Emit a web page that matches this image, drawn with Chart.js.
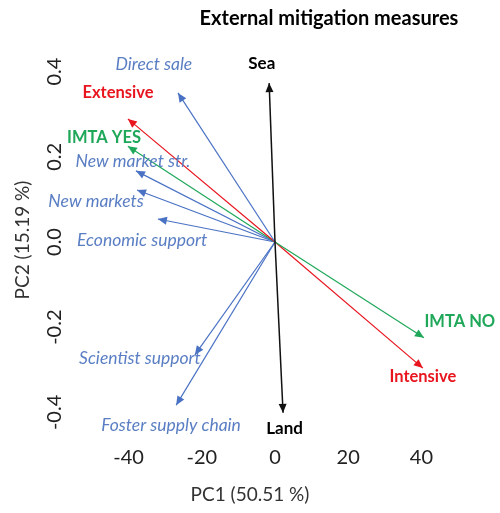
<!DOCTYPE html>
<html>
<head>
<meta charset="utf-8">
<script src="https://cdn.jsdelivr.net/npm/chart.js@4"></script>
<style>
  html, body { margin: 0; padding: 0; background: #fff; }
  #wrap { width: 500px; height: 513px; }
</style>
</head>
<body>
<div id="wrap"><canvas id="biplot"></canvas></div>
<script>
// loadings (PC1, PC2)
const names = ['Sea', 'Land', 'Direct sale', 'Extensive', 'IMTA YES', 'New market str.', 'New markets',
               'Economic support', 'Scientist support', 'Foster supply chain', 'IMTA NO', 'Intensive'];
const pc1 = [-1.6, 2.2, -26.5, -40.2, -40.2, -38.0, -37.7, -32.0, -21.9, -27.0, 40.7, 40.4];
const pc2 = [0.373, -0.401, 0.350, 0.289, 0.225, 0.167, 0.122, 0.054, -0.265, -0.383, -0.225, -0.296];
const groups = ['site', 'site', 'measure', 'type', 'imta', 'measure', 'measure',
                'measure', 'measure', 'measure', 'imta', 'type'];
// where each label sits, in data units
const labelX = [-3.6, 2.6, -33.1, -42.9, -46.7, -38.8, -48.9, -36.3, -36.9, -28.4, 50.5, 40.4];
const labelY = [0.420, -0.437, 0.418, 0.350, 0.246, 0.190, 0.096, 0.005, -0.272, -0.430, -0.188, -0.317];

const xTicks = [-40, -20, 0, 20, 40];
const yTicks = [-0.4, -0.2, 0, 0.2, 0.4];

const lineColor = { site: '#111111', measure: '#4a72c4', type: '#e8141e', imta: '#1fa85a' };
const textColor = { site: '#000000', measure: '#5a7ec3', type: '#e8141e', imta: '#1fa85a' };

const datasets = names.map((n, i) => ({
    label: n,
    data: [{ x: 0, y: 0 }, { x: pc1[i], y: pc2[i] }],
    showLine: true,
    borderColor: lineColor[groups[i]],
    borderWidth: groups[i] === 'site' ? 1.5 : 1.2,
    pointRadius: 0,
    clip: false
}));

// arrow heads, labels, title and the rotated y tick labels
const decor = {
    id: 'decor',
    afterDatasetsDraw(chart) {
        const ctx = chart.ctx;
        const xs = chart.scales.x, ys = chart.scales.y;
        ctx.save();
        chart.data.datasets.forEach((ds, i) => {
            const pts = chart.getDatasetMeta(i).data;
            const a = pts[0], b = pts[1];
            const ang = Math.atan2(b.y - a.y, b.x - a.x);
            const len = 9, half = 4;
            ctx.fillStyle = ds.borderColor;
            ctx.beginPath();
            ctx.moveTo(b.x, b.y);
            ctx.lineTo(b.x - len * Math.cos(ang) + half * Math.sin(ang), b.y - len * Math.sin(ang) - half * Math.cos(ang));
            ctx.lineTo(b.x - len * Math.cos(ang) - half * Math.sin(ang), b.y - len * Math.sin(ang) + half * Math.cos(ang));
            ctx.closePath();
            ctx.fill();
        });

        ctx.textAlign = 'center';
        ctx.textBaseline = 'middle';
        names.forEach((n, i) => {
            const g = groups[i];
            ctx.fillStyle = textColor[g];
            if (g === 'measure') ctx.font = 'italic 17.5px Lato';
            else if (g === 'site') ctx.font = 'bold 17px Lato';
            else ctx.font = 'bold 16.5px Lato';
            ctx.fillText(n, xs.getPixelForValue(labelX[i]), ys.getPixelForValue(labelY[i]));
        });

        ctx.fillStyle = '#000';
        ctx.font = 'bold 20px Lato';
        ctx.fillText('External mitigation measures', 329, 19);

        ctx.fillStyle = '#222';
        ctx.font = '20px Lato';
        ys.ticks.forEach(t => {
            ctx.save();
            ctx.translate(55, ys.getPixelForValue(t.value));
            ctx.rotate(-Math.PI / 2);
            ctx.fillText(t.value.toFixed(1), 0, 0);
            ctx.restore();
        });
        ctx.restore();
    }
};

new Chart(document.getElementById('biplot'), {
    type: 'scatter',
    data: { datasets: datasets },
    options: {
        responsive: true,
        maintainAspectRatio: false,
        animation: false,
        layout: { padding: { top: 40, right: 70, left: 0, bottom: 0 } },
        plugins: { legend: { display: false }, tooltip: { enabled: false } },
        scales: {
            x: {
                type: 'linear',
                min: -56.01, max: 42.35,
                afterFit: s => { s.height = 73; },
                afterBuildTicks: s => { s.ticks = xTicks.map(v => ({ value: v })); },
                grid: { display: false, drawTicks: false },
                border: { display: false },
                ticks: { padding: 6, color: '#222', font: { family: 'Lato', size: 20 } },
                title: { display: true, text: 'PC1 (50.51 %)', color: '#333',
                         font: { family: 'Lato', size: 19 }, padding: { top: 0, bottom: 7 } }
            },
            y: {
                type: 'linear',
                min: -0.4648, max: 0.4742,
                afterFit: s => { s.width = 70; },
                afterBuildTicks: s => { s.ticks = yTicks.map(v => ({ value: v })); },
                grid: { display: false, drawTicks: false },
                border: { display: false },
                ticks: { display: false },
                title: { display: true, text: 'PC2 (15.19 %)', color: '#333',
                         font: { family: 'Lato', size: 19 }, padding: { top: 11, bottom: 0 } }
            }
        }
    },
    plugins: [decor]
});
</script>
</body>
</html>
